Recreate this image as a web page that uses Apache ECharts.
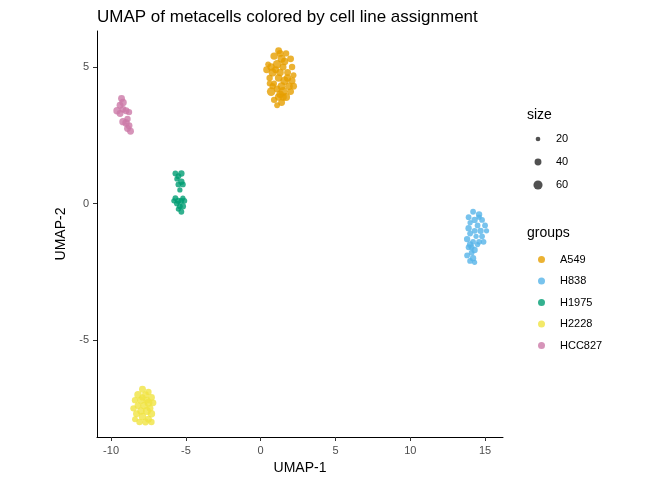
<!DOCTYPE html><html><head><meta charset="utf-8"><script src="https://cdn.jsdelivr.net/npm/echarts@6/dist/echarts.min.js"></script></head><body style="margin:0"><div id="c" style="width:672px;height:480px"></div><script>
const groups=['A549','H838','H1975','H2228','HCC827'];
const colors=['#E69F00','#56B4E9','#009E73','#F0E442','#CC79A7'];
const xTicks=[-10,-5,0,5,10,15];
const yTicks=[-5,0,5];
// [x, y, size]
const A549=[[1.2,5.6,40],[1.7,5.5,35],[0.9,5.4,45],[1.4,5.3,50],[2.0,5.3,40],[0.5,5.1,30],[0.7,5.0,45],[1.1,5.1,55],[1.5,5.0,40],[2.1,5.0,35],[0.4,4.9,40],[0.8,4.8,50],[1.3,4.8,45],[1.8,4.8,40],[2.2,4.7,30],[0.6,4.6,35],[1.2,4.6,45],[1.6,4.5,55],[2.1,4.5,40],[0.9,4.4,30],[1.4,4.3,50],[1.9,4.3,45],[1.1,4.2,40],[0.7,4.1,55],[1.5,4.1,60],[2.0,4.1,40],[1.2,3.9,45],[1.7,3.9,50],[0.9,3.8,35],[1.4,3.7,40],[1.1,3.6,30],[1.5,3.9,45],[0.8,4.3,35],[1.8,4.6,45],[1.0,4.9,40],[1.6,5.2,45],[1.3,5.5,40],[0.6,4.4,30],[2.2,4.3,40],[1.3,4.0,45]];
const H838=[[14.2,-0.3,30],[14.6,-0.4,35],[13.9,-0.5,30],[14.3,-0.6,35],[14.8,-0.6,30],[14.0,-0.7,25],[14.5,-0.8,30],[15.0,-0.8,30],[13.9,-0.9,35],[14.3,-1.0,30],[14.7,-1.0,35],[15.1,-1.0,25],[14.0,-1.1,30],[14.8,-1.2,30],[14.4,-1.2,25],[13.8,-1.3,35],[14.6,-1.4,30],[14.9,-1.4,30],[14.2,-1.4,30],[14.0,-1.5,35],[13.9,-1.6,30],[14.3,-1.7,35],[14.1,-1.8,30],[13.8,-1.9,30],[14.2,-2.0,35],[14.0,-2.1,30],[14.3,-2.15,25],[14.1,-1.6,30],[14.5,-1.5,25],[14.6,-0.5,25]];
const H1975=[[-5.7,1.1,30],[-5.3,1.1,35],[-5.5,1.0,30],[-5.6,0.9,25],[-5.3,0.8,35],[-5.5,0.7,30],[-5.2,0.7,30],[-5.4,0.5,25],[-5.7,0.2,30],[-5.5,0.1,35],[-5.3,0.1,30],[-5.1,0.1,30],[-5.8,0.1,25],[-5.6,0.0,30],[-5.4,-0.1,30],[-5.2,-0.1,35],[-5.5,-0.2,25],[-5.3,-0.3,30],[-5.2,0.2,25]];
const H2228=[[-7.9,-6.8,40],[-7.5,-6.9,35],[-8.2,-7.0,45],[-7.7,-7.0,40],[-7.3,-7.1,40],[-8.4,-7.2,35],[-8.0,-7.2,45],[-7.5,-7.3,50],[-7.2,-7.3,40],[-8.2,-7.4,40],[-7.8,-7.4,45],[-7.4,-7.5,40],[-8.5,-7.5,35],[-8.0,-7.6,45],[-7.6,-7.6,50],[-7.3,-7.7,45],[-8.3,-7.7,40],[-7.9,-7.8,45],[-7.5,-7.9,40],[-8.1,-8.0,35],[-7.7,-8.0,40],[-7.3,-8.0,35],[-8.4,-7.9,30],[-7.6,-7.2,40],[-7.9,-7.1,35]];
const HCC827=[[-9.3,3.85,40],[-9.2,3.7,45],[-9.4,3.6,40],[-9.6,3.4,45],[-9.2,3.45,40],[-9.0,3.4,40],[-8.8,3.35,35],[-9.4,3.3,40],[-8.9,3.1,35],[-9.2,3.0,45],[-9.0,2.95,45],[-8.8,2.85,40],[-8.9,2.75,40],[-8.7,2.65,40]];
const all=[A549,H838,H1975,H2228,HCC827];
const sz=v=>2.5+v*0.11;
const lbl={color:'#4d4d4d',fontSize:11,fontFamily:'Liberation Sans'};
const tick={length:4,lineStyle:{color:'#333'}};
const nts={color:'#000',fontSize:14,fontFamily:'Liberation Sans'};
const line={onZero:false,lineStyle:{color:'#000'}};
const g=[{type:'text',left:527,top:108,style:{text:'size',fontSize:14,fontFamily:'Liberation Sans',fill:'#000'}}];
[[20,139],[40,162],[60,185]].forEach(([s,y])=>{g.push({type:'circle',shape:{cx:538,cy:y,r:sz(s)/2},style:{fill:'#333',opacity:0.85}});g.push({type:'text',left:556,top:y-6,style:{text:String(s),fontSize:11,fontFamily:'Liberation Sans',fill:'#000'}});});
g.push({type:'text',left:527,top:226,style:{text:'groups',fontSize:14,fontFamily:'Liberation Sans',fill:'#000'}});
const chart=echarts.init(document.getElementById('c'));
chart.setOption({animation:false,
title:{text:'UMAP of metacells colored by cell line assignment',left:92,top:4,textStyle:{fontSize:17,fontWeight:'normal',color:'#000',fontFamily:'Liberation Sans'}},
grid:{left:97,right:169,top:31,bottom:43},
xAxis:{type:'value',min:-10.94,max:16.2,name:'UMAP-1',nameLocation:'middle',nameGap:22,nameTextStyle:nts,axisLine:line,splitLine:{show:false},axisLabel:Object.assign({customValues:xTicks},lbl),axisTick:Object.assign({customValues:xTicks},tick)},
yAxis:{type:'value',min:-8.55,max:6.32,name:'UMAP-2',nameLocation:'middle',nameGap:25,nameTextStyle:nts,axisLine:line,splitLine:{show:false},axisLabel:Object.assign({customValues:yTicks},lbl),axisTick:Object.assign({customValues:yTicks},tick)},
legend:{data:groups,orient:'vertical',left:533,top:249,itemGap:10.5,itemWidth:7,itemHeight:7,icon:'circle',textStyle:{fontSize:11,fontFamily:'Liberation Sans',color:'#000',padding:[0,0,0,10]}},
graphic:g,
series:groups.map((n,i)=>({name:n,type:'scatter',data:all[i],symbolSize:d=>sz(d[2]),itemStyle:{color:colors[i],opacity:0.8}}))});
</script></body></html>
